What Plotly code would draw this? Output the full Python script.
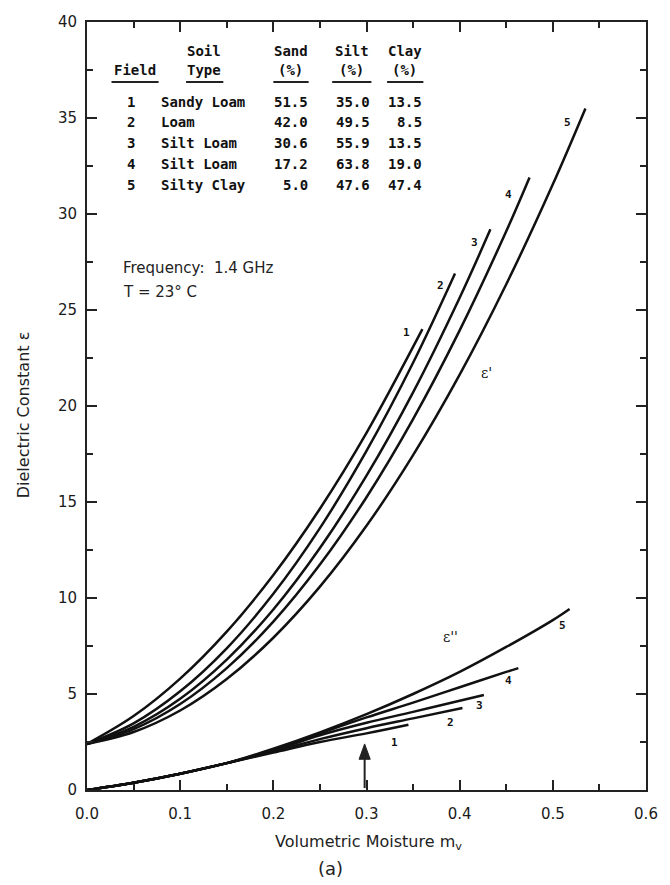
import plotly.graph_objects as go

# ---------------- data ----------------
# real part eps' for fields 1..5
mv_r1 = [0, 0.05, 0.10, 0.15, 0.20, 0.25, 0.30, 0.36]
er_1 = [2.4, 3.85, 5.8, 8.25, 11.2, 14.65, 18.6, 24.0]
mv_r2 = [0, 0.05, 0.10, 0.15, 0.20, 0.25, 0.30, 0.35, 0.395]
er_2 = [2.4, 3.47, 5.14, 7.38, 10.22, 13.64, 17.66, 22.25, 26.9]
mv_r3 = [0, 0.05, 0.10, 0.15, 0.20, 0.25, 0.30, 0.35, 0.40, 0.433]
er_3 = [2.4, 3.29, 4.75, 6.79, 9.4, 12.6, 16.37, 20.71, 25.64, 29.2]
mv_r4 = [0, 0.05, 0.10, 0.15, 0.20, 0.25, 0.30, 0.35, 0.40, 0.45, 0.475]
er_4 = [2.4, 3.17, 4.48, 6.35, 8.77, 11.74, 15.25, 19.32, 23.94, 29.1, 31.9]
mv_r5 = [0, 0.05, 0.10, 0.15, 0.20, 0.25, 0.30, 0.35, 0.40, 0.45, 0.50, 0.535]
er_5 = [2.4, 3.02, 4.14, 5.78, 7.93, 10.59, 13.76, 17.44, 21.63, 26.34, 31.55, 35.5]

# imaginary part eps'' for fields 1..5
mv_i1 = [0, 0.05, 0.10, 0.15, 0.20, 0.25, 0.30, 0.345]
ei_1 = [0, 0.38, 0.85, 1.4, 1.95, 2.5, 2.95, 3.4]
mv_i2 = [0, 0.05, 0.10, 0.15, 0.20, 0.25, 0.30, 0.35, 0.403]
ei_2 = [0, 0.38, 0.85, 1.4, 2.0, 2.65, 3.22, 3.73, 4.27]
mv_i3 = [0, 0.05, 0.10, 0.15, 0.20, 0.25, 0.30, 0.35, 0.40, 0.426]
ei_3 = [0, 0.38, 0.85, 1.4, 2.05, 2.85, 3.5, 4.07, 4.65, 4.95]
mv_i4 = [0, 0.05, 0.10, 0.15, 0.20, 0.25, 0.30, 0.35, 0.40, 0.45, 0.463]
ei_4 = [0, 0.38, 0.85, 1.4, 2.1, 2.95, 3.78, 4.55, 5.35, 6.15, 6.35]
mv_i5 = [0, 0.05, 0.10, 0.15, 0.20, 0.25, 0.30, 0.35, 0.40, 0.45, 0.50, 0.518]
ei_5 = [0, 0.38, 0.85, 1.4, 2.15, 3.0, 3.95, 5.0, 6.15, 7.45, 8.85, 9.43]

field_ids = ["1", "2", "3", "4", "5"]
soil_types = ["Sandy Loam", "Loam", "Silt Loam", "Silt Loam", "Silty Clay"]
sand_pct = ["51.5", "42.0", "30.6", "17.2", "5.0"]
silt_pct = ["35.0", "49.5", "55.9", "63.8", "47.6"]
clay_pct = ["13.5", "8.5", "13.5", "19.0", "47.4"]

x_ticks = [0.0, 0.1, 0.2, 0.3, 0.4, 0.5, 0.6]
x_tick_text = ["0.0", "0.1", "0.2", "0.3", "0.4", "0.5", "0.6"]
y_ticks = [0, 5, 10, 15, 20, 25, 30, 35, 40]

# ---------------- layout geometry ----------------
W, H = 670, 885
L, R, T, B = 87, 13, 22, 95
PW, PH = W - L - R, H - T - B


def px(xp):
    return (xp - L) / PW


def py(yp):
    return (H - B - yp) / PH


fig = go.Figure()
line_style = dict(color="#111111", width=2.5, shape="spline", smoothing=1.0)
for xs, ys in [(mv_r1, er_1), (mv_r2, er_2), (mv_r3, er_3), (mv_r4, er_4), (mv_r5, er_5),
               (mv_i1, ei_1), (mv_i2, ei_2), (mv_i3, ei_3), (mv_i4, ei_4), (mv_i5, ei_5)]:
    fig.add_trace(go.Scatter(x=xs, y=ys, mode="lines", line=line_style,
                             showlegend=False, hoverinfo="skip"))

ann = []
sans = "DejaVu Sans, Verdana, sans-serif"
tick_font = dict(family=sans, size=15, color="#1a1a1a")
mono = dict(family="DejaVu Sans Mono, monospace", size=14, color="#111")
lbl = dict(family="DejaVu Sans Mono, monospace", size=11, color="#111")


def text_px(t, xp, yp, font, xanchor="center", yanchor="middle", angle=0):
    ann.append(dict(text=t, x=px(xp), y=py(yp), xref="paper", yref="paper",
                    showarrow=False, font=font, xanchor=xanchor, yanchor=yanchor,
                    textangle=angle))


# table header
text_px("<b>Soil</b>", 206, 51, mono)
text_px("<b>Sand</b>", 295, 51, mono)
text_px("<b>Silt</b>", 357, 51, mono)
text_px("<b>Clay</b>", 411, 51, mono)
text_px("<b>Field</b>", 136, 70, mono)
text_px("<b>Type</b>", 206, 70, mono)
text_px("<b>(%)</b>", 295, 70, mono)
text_px("<b>(%)</b>", 357, 70, mono)
text_px("<b>(%)</b>", 411, 70, mono)
row_y = [102, 122, 143, 164, 185]
for i in range(5):
    text_px("<b>" + field_ids[i] + "</b>", 132, row_y[i], mono)
    text_px("<b>" + soil_types[i] + "</b>", 160, row_y[i], mono, xanchor="left")
    text_px("<b>" + sand_pct[i] + "</b>", 314, row_y[i], mono, xanchor="right")
    text_px("<b>" + silt_pct[i] + "</b>", 378, row_y[i], mono, xanchor="right")
    text_px("<b>" + clay_pct[i] + "</b>", 431, row_y[i], mono, xanchor="right")

shapes = []
for x0, x1 in [(112, 160), (188, 226), (277, 313), (337, 377), (393, 430)]:
    shapes.append(dict(type="line", xref="paper", yref="paper",
                       x0=px(x0), x1=px(x1), y0=py(82), y1=py(82),
                       line=dict(color="#222", width=2)))

info_font = dict(family=sans, size=15, color="#222")
text_px("Frequency:  1.4 GHz", 122, 268, info_font, xanchor="left")
text_px("T = 23° C", 122, 292, info_font, xanchor="left")

# curve labels
for t, xp, yp in [("1", 413, 332), ("2", 447, 285), ("3", 482, 242), ("4", 517, 195), ("5", 577, 123),
                  ("1", 401, 742), ("2", 458, 722), ("3", 487, 705), ("4", 517, 680), ("5", 572, 625)]:
    text_px("<b>" + t + "</b>", xp, yp, lbl)
text_px("ε'", 494, 373, dict(family="DejaVu Serif", size=14, color="#111"))
text_px("ε''", 458, 637, dict(family="DejaVu Serif", size=14, color="#111"))

# axis titles and caption
title_font = dict(family=sans, size=16, color="#222")
text_px("Dielectric Constant ε", 22, 415, title_font, angle=-90)
text_px("Volumetric Moisture m<sub>v</sub>", 374, 842, title_font)
text_px("(a)", 335, 868, dict(family=sans, size=18, color="#222"))

# arrow near mv = 0.3 (drawn as shapes in data coordinates)
shapes.append(dict(type="line", xref="x", yref="y", x0=0.298, x1=0.298, y0=0.1, y1=1.7,
                   line=dict(color="#222", width=2)))
shapes.append(dict(type="path", xref="x", yref="y",
                   path="M 0.292 1.6 L 0.304 1.6 L 0.298 2.4 Z",
                   fillcolor="#222", line=dict(color="#222", width=1)))

fig.update_layout(
    width=W, height=H, margin=dict(l=L, r=R, t=T, b=B),
    paper_bgcolor="white", plot_bgcolor="white",
    annotations=ann, shapes=shapes, showlegend=False,
    xaxis=dict(range=[0, 0.6], tickvals=x_ticks, ticktext=x_tick_text,
               ticks="inside", ticklen=10, tickwidth=1.5, tickcolor="#222",
               minor=dict(dtick=0.05, ticks="inside", ticklen=6, tickwidth=1.5, tickcolor="#222"),
               showline=True, linecolor="#222", linewidth=2, mirror="allticks",
               showgrid=False, zeroline=False, tickfont=tick_font, ticklabelstandoff=9),
    yaxis=dict(range=[0, 40], tickvals=y_ticks,
               ticks="inside", ticklen=10, tickwidth=1.5, tickcolor="#222",
               minor=dict(dtick=2.5, ticks="inside", ticklen=6, tickwidth=1.5, tickcolor="#222"),
               showline=True, linecolor="#222", linewidth=2, mirror="allticks",
               showgrid=False, zeroline=False, tickfont=tick_font, ticklabelstandoff=5),
)

fig.write_html("out.html")
